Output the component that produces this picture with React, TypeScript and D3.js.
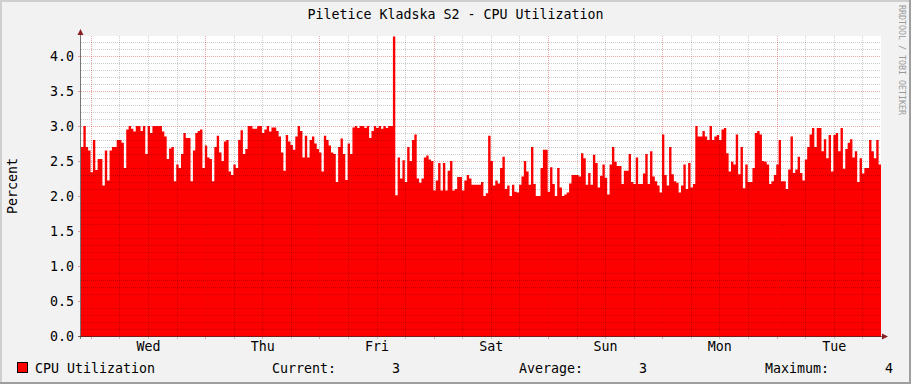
import React from "react";
import * as d3 from "d3";

const TITLE = "Piletice Kladska S2 - CPU Utilization";
const Y_LABEL = "Percent";
const WATERMARK = "RRDTOOL / TOBI OETIKER";
const SERIES_NAME = "CPU Utilization";
const LEGEND_STATS = ["Current:       3", "Average:       3", "Maximum:       4"];
const Y_TICKS = [0, 0.5, 1.0, 1.5, 2.0, 2.5, 3.0, 3.5, 4.0];
const Y_MAX = 300 / 70;
const START = new Date(2023, 0, 3, 21, 50);
const SPAN_DAYS = 7;

// CPU utilization, one sample every 30 minutes over the week
const CPU = [
  2.70, 3.00, 2.70, 2.65, 2.34, 2.80, 2.37, 2.53, 2.53, 2.15, 2.65, 2.22,
  2.65, 2.70, 2.70, 2.80, 2.80, 2.76, 2.40, 2.95, 3.00, 2.96, 2.92, 3.00,
  3.00, 2.93, 3.00, 2.60, 3.00, 2.90, 3.00, 3.00, 3.00, 3.00, 2.92, 2.85,
  2.53, 2.68, 2.70, 2.21, 2.45, 2.40, 2.60, 2.90, 2.83, 2.83, 2.21, 2.65,
  2.90, 2.93, 2.95, 2.40, 2.72, 2.55, 2.53, 2.21, 2.70, 2.86, 2.62, 2.50,
  2.78, 2.80, 2.35, 2.30, 2.45, 2.40, 2.80, 2.94, 2.60, 2.67, 3.00, 3.00,
  2.96, 2.96, 3.00, 3.00, 2.90, 2.95, 3.00, 2.92, 2.98, 2.98, 2.93, 2.85,
  2.62, 2.36, 2.87, 2.78, 2.73, 2.66, 2.85, 3.00, 2.93, 2.55, 2.86, 2.55,
  2.80, 2.85, 2.75, 2.67, 2.62, 2.35, 2.86, 2.80, 2.72, 2.62, 2.60, 2.20,
  2.70, 2.82, 2.60, 2.23, 2.75, 2.60, 2.98, 3.00, 2.97, 3.00, 3.00, 2.97,
  3.00, 2.83, 2.93, 3.00, 2.97, 3.00, 2.96, 3.00, 2.97, 3.00, 3.00, 4.28,
  2.01, 2.55, 2.25, 2.51, 2.20, 2.70, 2.50, 2.80, 2.88, 2.25, 2.19, 2.25,
  2.55, 2.58, 2.52, 2.50, 2.08, 2.22, 2.47, 2.08, 2.47, 2.08, 2.36, 2.50,
  2.08, 2.10, 2.27, 2.27, 2.08, 2.22, 2.30, 2.25, 2.16, 2.16, 2.16, 2.16,
  2.20, 2.00, 2.04, 2.86, 2.50, 2.15, 2.22, 2.18, 2.40, 2.56, 2.10, 2.15,
  2.00, 2.16, 2.06, 2.05, 2.16, 2.28, 2.50, 2.35, 2.16, 2.70, 2.17, 2.00,
  2.00, 2.40, 2.66, 2.66, 2.06, 2.41, 2.17, 2.00, 2.40, 2.12, 2.00, 2.02,
  2.05, 2.18, 2.30, 2.30, 2.30, 2.28, 2.61, 2.54, 2.16, 2.33, 2.16, 2.59,
  2.47, 2.12, 2.29, 2.45, 2.26, 2.02, 2.45, 2.70, 2.49, 2.43, 2.43, 2.17,
  2.36, 2.36, 2.60, 2.20, 2.17, 2.55, 2.17, 2.17, 2.32, 2.60, 2.17, 2.64,
  2.28, 2.21, 2.15, 2.05, 2.88, 2.30, 2.15, 2.70, 2.31, 2.21, 2.19, 2.05,
  2.15, 2.45, 2.10, 2.47, 2.12, 2.17, 3.00, 2.85, 2.85, 2.93, 2.85, 2.80,
  3.00, 2.80, 2.85, 2.87, 2.80, 2.95, 2.97, 2.61, 2.35, 2.49, 2.45, 2.88,
  2.31, 2.70, 2.11, 2.45, 2.20, 2.20, 2.40, 2.90, 2.93, 2.88, 2.50, 2.49,
  2.45, 2.17, 2.21, 2.30, 2.45, 2.80, 2.21, 2.21, 2.10, 2.38, 2.85, 2.33,
  2.38, 2.56, 2.33, 2.22, 2.52, 2.70, 2.88, 2.97, 2.70, 2.97, 2.97, 2.64,
  2.81, 2.54, 2.87, 2.35, 2.87, 2.90, 2.64, 2.97, 2.39, 2.67, 2.76, 2.81,
  2.55, 2.64, 2.20, 2.54, 2.32, 2.40, 2.40, 2.80, 2.64, 2.54, 2.80, 2.45,
];

const FONT = "'DejaVu Sans Mono', monospace";
const MINOR = "rgba(0,0,0,0.2)";
const MAJOR = "rgba(210,20,20,0.38)";
const AXIS = "rgba(40,40,40,0.62)";
const ARROW = "#882222";

export default function App() {
  const W = 911, H = 384;
  const L = 81, R = 881, T = 36, B = 336;
  const END = new Date(START.getTime() + SPAN_DAYS * 86400000);
  const step = (END.getTime() - START.getTime()) / CPU.length;

  const x = d3.scaleTime().domain([START, END]).range([L, R]);
  const y = d3.scaleLinear().domain([0, Y_MAX]).range([B, T]);

  const pts: [Date, number][] = CPU.map((v, i) => [new Date(START.getTime() + i * step), v]);
  pts.push([END, CPU[CPU.length - 1]]);

  const area = d3
    .area<[Date, number]>()
    .x((d) => x(d[0]))
    .y0(B + 1)
    .y1((d) => y(d[1]))
    .curve(d3.curveStepAfter);

  const days = d3.timeDay.range(START, END);
  const sixHours = d3.timeHour
    .every(6)!
    .range(START, END)
    .filter((t) => t.getHours() !== 0);
  const noons = days.map((d) => new Date(d.getTime() + 12 * 3600000)).filter((d) => d < END);
  const fmtDay = d3.timeFormat("%a");

  const yMinor = d3.range(1, 43).filter((i) => i % 5 !== 0).map((i) => i / 10);
  const yMajor = Y_TICKS.filter((v) => v > 0);
  const py = (v: number) => Math.round(y(v)) + 0.5;
  const px = (t: Date) => Math.floor(x(t)) + 0.5;

  const statX = [272, 519, 765];

  return (
    <svg
      width={W}
      height={H}
      style={{ position: "absolute", left: 0, top: 0, display: "block" }}
      fontFamily={FONT}
    >
      <rect x={0} y={0} width={W} height={H} fill="#f2f2f2" />
      <rect x={0} y={0} width={W} height={2} fill="#cfcfcf" />
      <rect x={0} y={0} width={2} height={H} fill="#cfcfcf" />
      <rect x={0} y={H - 2} width={W} height={2} fill="#9e9e9e" />
      <rect x={W - 2} y={0} width={2} height={H} fill="#9e9e9e" />

      <rect x={L} y={T} width={R - L} height={B - T} fill="#ffffff" />

      <path d={area(pts) || ""} fill="#ff0000" />

      {/* minor grid */}
      <g stroke={MINOR} strokeDasharray="1,1" strokeWidth={1}>
        {yMinor.map((v) => (
          <line key={"ym" + v} x1={L} x2={R} y1={py(v)} y2={py(v)} />
        ))}
        {sixHours.map((t) => (
          <line key={"xm" + t.getTime()} x1={px(t)} x2={px(t)} y1={T} y2={B} />
        ))}
      </g>
      {/* major grid */}
      <g stroke={MAJOR} strokeDasharray="1,1" strokeWidth={1}>
        {yMajor.map((v) => (
          <line key={"yM" + v} x1={L} x2={R} y1={py(v)} y2={py(v)} />
        ))}
        {days.map((t) => (
          <line key={"xM" + t.getTime()} x1={px(t)} x2={px(t)} y1={T} y2={B} />
        ))}
      </g>

      {/* tick marks */}
      <g strokeWidth={1}>
        {sixHours.map((t) => (
          <line key={"tm" + t.getTime()} x1={px(t)} x2={px(t)} y1={B + 1} y2={B + 3} stroke={MINOR} />
        ))}
        {days.map((t) => (
          <line key={"tM" + t.getTime()} x1={px(t)} x2={px(t)} y1={B + 1} y2={B + 3} stroke={MAJOR} />
        ))}
        {Y_TICKS.map((v) => (
          <line key={"ty" + v} x1={L - 3} x2={L - 1} y1={py(v)} y2={py(v)} stroke={MAJOR} />
        ))}
      </g>

      {/* axes */}
      <line x1={L - 0.5} x2={L - 0.5} y1={T - 2} y2={B + 3} stroke={AXIS} />
      <line x1={L - 3} x2={R + 4} y1={B + 0.5} y2={B + 0.5} stroke={AXIS} />
      <path d={`M${L - 0.5},${T - 7} L${L - 3.5},${T - 1} L${L + 2.5},${T - 1} Z`} fill={ARROW} />
      <path d={`M${R + 7},${B + 0.5} L${R + 1},${B - 2.5} L${R + 1},${B + 3.5} Z`} fill={ARROW} />

      {/* y tick labels */}
      <g fontSize={13.3} fill="#000" textAnchor="end">
        {Y_TICKS.map((v) => (
          <text key={"yl" + v} x={74} y={y(v) + 5}>
            {d3.format(".1f")(v)}
          </text>
        ))}
      </g>
      {/* x tick labels */}
      <g fontSize={13.3} fill="#000" textAnchor="middle">
        {noons.map((t) => (
          <text key={"xl" + t.getTime()} x={x(t)} y={351}>
            {fmtDay(t)}
          </text>
        ))}
      </g>

      <text x={W / 2} y={19} fontSize={13.3} textAnchor="middle" fill="#000">
        {TITLE}
      </text>
      <text
        transform={`translate(17,186) rotate(-90)`}
        fontSize={13.3}
        textAnchor="middle"
        fill="#000"
      >
        {Y_LABEL}
      </text>
      <text transform={`translate(899,5) rotate(90)`} fontSize={8.3} fill="#9a9a9a">
        {WATERMARK}
      </text>

      {/* legend */}
      <rect x={17.5} y={362.5} width={10} height={10} fill="#ff0000" stroke="#000" />
      <text x={35} y={373} fontSize={13.3} fill="#000">
        {SERIES_NAME}
      </text>
      {LEGEND_STATS.map((s, i) => (
        <text key={s} x={statX[i]} y={373} fontSize={13.3} fill="#000" xmlSpace="preserve" style={{ whiteSpace: "pre" }}>
          {s}
        </text>
      ))}
    </svg>
  );
}
